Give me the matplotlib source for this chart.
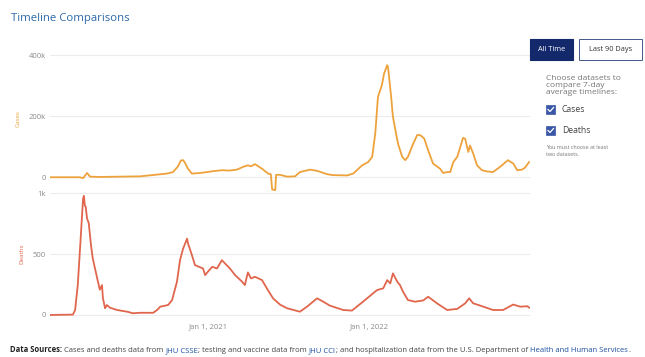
import matplotlib
matplotlib.use("agg")
import matplotlib.pyplot as plt
from matplotlib.patches import Rectangle
from matplotlib.lines import Line2D
import pandas as pd

# 7-day average of daily cases (thousands)
case_dates = ["2020-01-08", "2020-03-16", "2020-03-23", "2020-04-01", "2020-04-08", "2020-04-30",
              "2020-07-30", "2020-09-02", "2020-09-29", "2020-10-13", "2020-10-24", "2020-10-31",
              "2020-11-05", "2020-11-09", "2020-11-16", "2020-11-25", "2020-12-13", "2020-12-29",
              "2021-01-12", "2021-02-01", "2021-02-19", "2021-03-07", "2021-03-21", "2021-04-01",
              "2021-04-08", "2021-04-17", "2021-05-03", "2021-05-17", "2021-05-23", "2021-05-26",
              "2021-06-02", "2021-06-04", "2021-06-13", "2021-06-29", "2021-07-17", "2021-07-28",
              "2021-08-20", "2021-09-05", "2021-09-28", "2021-10-11", "2021-11-12", "2021-11-26",
              "2021-12-16", "2021-12-30", "2022-01-08", "2022-01-15", "2022-01-21", "2022-01-30",
              "2022-02-04", "2022-02-11", "2022-02-13", "2022-02-20", "2022-02-24", "2022-03-06",
              "2022-03-08", "2022-03-17", "2022-03-24", "2022-03-30", "2022-04-11", "2022-04-20",
              "2022-04-27", "2022-05-06", "2022-05-15", "2022-05-26", "2022-06-11", "2022-06-18",
              "2022-06-27", "2022-07-04", "2022-07-11", "2022-07-20", "2022-07-27", "2022-08-02",
              "2022-08-07", "2022-08-14", "2022-08-18", "2022-08-25", "2022-09-03", "2022-09-14",
              "2022-09-26", "2022-10-09", "2022-10-25", "2022-11-12", "2022-11-24", "2022-12-03",
              "2022-12-14", "2022-12-21", "2022-12-30"]
cases_k = [0, 0, -3, 14, 2, 1,
           3, 8, 12, 17, 35, 55,
           56, 48, 28, 12, 14, 17,
           20, 23, 22, 25, 34, 39,
           36, 43, 28, 12, 10, -40,
           -42, 8, 8, 2, 3, 17,
           25, 21, 10, 7, 6, 12,
           39, 50, 67, 144, 263, 302,
           340, 367, 360, 263, 198, 121,
           108, 67, 56, 67, 110, 138,
           138, 127, 88, 45, 28, 14,
           17, 17, 50, 67, 100, 129,
           126, 83, 104, 78, 39, 23,
           19, 17, 34, 56, 45, 23,
           25, 32, 50]

# 7-day average of daily deaths
death_dates = ["2020-01-08", "2020-02-29", "2020-03-05", "2020-03-11", "2020-03-18", "2020-03-23",
               "2020-03-25", "2020-03-27", "2020-03-29", "2020-04-01", "2020-04-05", "2020-04-10",
               "2020-04-14", "2020-04-24", "2020-04-30", "2020-05-05", "2020-05-07", "2020-05-12",
               "2020-05-16", "2020-05-23", "2020-06-08", "2020-07-01", "2020-07-14", "2020-07-30",
               "2020-08-29", "2020-09-07", "2020-09-14", "2020-10-02", "2020-10-11", "2020-10-22",
               "2020-10-29", "2020-11-05", "2020-11-14", "2020-11-16", "2020-11-25", "2020-12-02",
               "2020-12-20", "2020-12-25", "2020-12-31", "2021-01-10", "2021-01-21", "2021-02-01",
               "2021-02-08", "2021-02-19", "2021-03-03", "2021-03-19", "2021-03-25", "2021-04-01",
               "2021-04-08", "2021-04-17", "2021-05-03", "2021-05-14", "2021-05-28", "2021-06-13",
               "2021-06-29", "2021-07-28", "2021-08-13", "2021-09-05", "2021-09-19", "2021-10-04",
               "2021-11-03", "2021-11-23", "2021-12-18", "2022-01-19", "2022-02-02", "2022-02-11",
               "2022-02-18", "2022-02-24", "2022-03-06", "2022-03-12", "2022-03-19", "2022-03-30",
               "2022-04-15", "2022-05-04", "2022-05-15", "2022-06-04", "2022-06-27", "2022-07-20",
               "2022-08-07", "2022-08-16", "2022-08-25", "2022-09-10", "2022-10-09", "2022-11-01",
               "2022-11-24", "2022-12-10", "2022-12-26", "2022-12-30"]
deaths = [0, 3, 41, 246, 656, 956,
          980, 900, 890, 795, 754, 574,
          465, 303, 208, 246, 139, 55,
          82, 60, 41, 27, 14, 18,
          18, 41, 68, 82, 123, 273,
          451, 546, 628, 590, 492, 410,
          383, 328, 355, 396, 383, 451,
          424, 383, 328, 273, 246, 350,
          301, 314, 287, 219, 137, 85,
          55, 27, 68, 137, 109, 77,
          41, 36, 109, 205, 219, 287,
          260, 342, 273, 246, 191, 123,
          109, 120, 150, 96, 41, 50,
          96, 137, 96, 77, 41, 41,
          86, 68, 72, 60]

cases_ticks = [0, 200, 400]
cases_tick_labels = ["0", "200k", "400k"]
death_ticks = [0, 500, 1000]
death_tick_labels = ["0", "500", "1k"]
x_ticks = ["2021-01-01", "2022-01-01"]
x_tick_labels = ["Jan 1, 2021", "Jan 1, 2022"]

W, H = 645, 357
CASE_COLOR = "#eda23c"
DEATH_COLOR = "#e0664d"
TICK_COLOR = "#8a8a8a"
GRID_COLOR = "#ececec"


def fx(x):
    return x / W


def fy(y):
    return 1 - y / H


plt.rcParams["font.family"] = ["Open Sans", "DejaVu Sans"]
fig = plt.figure(figsize=(W / 100, H / 100), dpi=100)

xlim = (pd.Timestamp("2020-01-08"), pd.Timestamp("2023-01-01"))

ax_c = fig.add_axes([fx(50), fy(191), fx(480), (191 - 46) / H])
ax_d = fig.add_axes([fx(50), fy(317.4), fx(480), (317.4 - 191) / H])

ax_c.plot(pd.to_datetime(case_dates), cases_k, color=CASE_COLOR, lw=1.3, zorder=3)
ax_c.set_ylim(-45, 430)
ax_c.set_yticks(cases_ticks)
ax_c.set_yticklabels(cases_tick_labels)
ax_c.set_ylabel("Cases", color=CASE_COLOR, fontsize=4.5, labelpad=6)

ax_d.plot(pd.to_datetime(death_dates), deaths, color=DEATH_COLOR, lw=1.3, zorder=3)
ax_d.set_ylim(-20, 1020)
ax_d.set_yticks(death_ticks)
ax_d.set_yticklabels(death_tick_labels)
ax_d.set_ylabel("Deaths", color=DEATH_COLOR, fontsize=4.5, labelpad=6)

for ax in (ax_c, ax_d):
    ax.set_facecolor("none")
    ax.set_xlim(*xlim)
    for s in ax.spines.values():
        s.set_visible(False)
    ax.grid(axis="y", color=GRID_COLOR, lw=0.8, zorder=0)
    ax.tick_params(axis="y", length=0, pad=3, labelsize=5.5, labelcolor=TICK_COLOR)
    ax.tick_params(axis="x", length=0, pad=4, labelsize=5.5, labelcolor=TICK_COLOR)

ax_c.set_xticks([])
ax_d.set_xticks(pd.to_datetime(x_ticks))
ax_d.set_xticklabels(x_tick_labels)

# title
fig.text(fx(11), fy(18), "Timeline Comparisons", color="#2e6aa8", fontsize=8.2,
         va="center", ha="left")

# time range buttons
fig.patches.append(Rectangle((fx(530), fy(60)), fx(43), 21 / H, fc="#14296b", ec="#14296b",
                             lw=0.8, transform=fig.transFigure))
fig.text(fx(551.5), fy(49.5), "All Time", color="white", fontsize=5.3, ha="center", va="center")
fig.patches.append(Rectangle((fx(579), fy(60)), fx(63), 21 / H, fc="white", ec="#44588a",
                             lw=0.7, transform=fig.transFigure))
fig.text(fx(610.5), fy(49.5), "Last 90 Days", color="#333333", fontsize=5.3,
         ha="center", va="center")

fig.text(fx(546), fy(75.5), "Choose datasets to\ncompare 7-day\naverage timelines:",
         color="#777777", fontsize=6.0, ha="left", va="top", linespacing=0.9)

for yc, label in [(109.5, "Cases"), (130.5, "Deaths")]:
    fig.patches.append(Rectangle((fx(546), fy(yc + 4)), fx(9), 8 / H, fc="#3a56a6",
                                 ec="#3a56a6", lw=0.5, transform=fig.transFigure))
    fig.lines.append(Line2D([fx(548), fx(550), fx(553.5)], [fy(yc), fy(yc + 2), fy(yc - 2)],
                            color="white", lw=0.9, transform=fig.transFigure))
    fig.text(fx(562), fy(yc), label, color="#444444", fontsize=6.2, ha="left", va="center")

fig.text(fx(546), fy(145), "You must choose at least\ntwo datasets.", color="#777777",
         fontsize=3.9, ha="left", va="top", linespacing=1.5)

# footer, each piece chained onto the end of the previous one
pieces = [("Data Sources:", "#222222", "bold"),
          (" Cases and deaths data from ", "#444444", "normal"),
          ("JHU CSSE", "#1d4f9e", "normal"),
          ("; testing and vaccine data from ", "#444444", "normal"),
          ("JHU CCI", "#1d4f9e", "normal"),
          ("; and hospitalization data from the U.S. Department of ", "#444444", "normal"),
          ("Health and Human Services", "#1d4f9e", "normal"),
          (".", "#444444", "normal")]
FOOT_SIZE = 5.5
prev = None
for text, color, weight in pieces:
    if prev is None:
        prev = fig.text(fx(10), fy(354), text, color=color, fontweight=weight,
                        fontsize=FOOT_SIZE, ha="left", va="bottom")
    else:
        prev = ax_d.annotate(text, xy=(1, 0), xycoords=prev, va="bottom", ha="left",
                             color=color, fontweight=weight, fontsize=FOOT_SIZE,
                             annotation_clip=False)

fig.savefig("out.png", dpi=100)
